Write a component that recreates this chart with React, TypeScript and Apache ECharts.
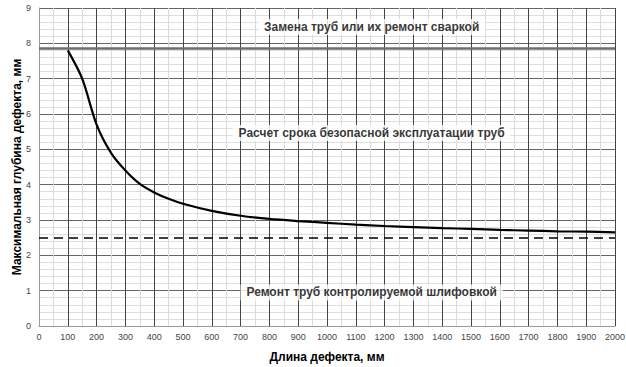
import React, { useEffect, useRef } from "react";
import * as echarts from "echarts";

const lengths = [100, 150, 200, 250, 300, 350, 400, 450, 500, 600, 700, 800, 900, 1000, 1100, 1200, 1300, 1400, 1500, 1600, 1700, 1800, 1900, 2000];
const depths = [7.8, 7.0, 5.7, 4.9, 4.4, 4.02, 3.78, 3.6, 3.46, 3.26, 3.12, 3.03, 2.97, 2.92, 2.87, 2.83, 2.8, 2.77, 2.75, 2.72, 2.7, 2.68, 2.67, 2.65];
const upperLimit = 7.85;
const lowerLimit = 2.5;
const zoneLabels = [
  "Замена труб или их ремонт сваркой",
  "Расчет срока безопасной эксплуатации труб",
  "Ремонт труб контролируемой шлифовкой",
];
const zoneX = [1155, 1155, 1155];
const zoneY = [8.46, 5.46, 0.95];
const xTitle = "Длина дефекта, мм";
const yTitle = "Максимальная глубина дефекта, мм";

export default function App() {
  const ref = useRef<HTMLDivElement>(null);
  useEffect(() => {
    document.body.style.margin = "0";
    const chart = echarts.init(ref.current!, null, { renderer: "svg" });
    const font = "Liberation Sans, Arial, sans-serif";
    chart.setOption({
      animation: false,
      textStyle: { fontFamily: font },
      grid: { left: 39, right: 11, top: 8, bottom: 41, containLabel: false, outerBoundsMode: "none" },
      xAxis: {
        type: "value",
        min: 0,
        max: 2000,
        interval: 100,
        name: xTitle,
        nameLocation: "middle",
        nameGap: 25,
        nameMoveOverlap: false,
        nameTextStyle: { fontWeight: "bold", fontSize: 12, color: "#000", fontFamily: font },
        axisLine: { show: true, lineStyle: { color: "#999" } },
        axisTick: { show: false },
        axisLabel: { color: "#444", fontSize: 9, margin: 6, formatter: (v: number) => String(v) },
        splitLine: { show: true, lineStyle: { color: "#444", width: 1 } },
        minorTick: { show: false, splitNumber: 2 },
        minorSplitLine: { show: true, lineStyle: { color: "#dadada", width: 1 } },
      },
      yAxis: {
        type: "value",
        min: 0,
        max: 9,
        interval: 1,
        name: yTitle,
        nameLocation: "middle",
        nameGap: 16,
        nameMoveOverlap: false,
        nameTextStyle: { fontWeight: "bold", fontSize: 12, color: "#000", fontFamily: font },
        axisLine: { show: true, lineStyle: { color: "#999" } },
        axisTick: { show: false },
        axisLabel: { color: "#444", fontSize: 9, margin: 8 },
        splitLine: { show: true, lineStyle: { color: "#666", width: 1 } },
        minorTick: { show: false, splitNumber: 5 },
        minorSplitLine: { show: true, lineStyle: { color: "#dedede", width: 1 } },
      },
      series: [
        {
          type: "line",
          data: lengths.map((x, i) => [x, depths[i]]),
          smooth: 0.3,
          showSymbol: false,
          lineStyle: { color: "#000", width: 2.2 },
          z: 5,
          markLine: {
            silent: true,
            symbol: "none",
            label: { show: false },
            data: [
              { yAxis: upperLimit, lineStyle: { color: "#6e6e6e", width: 2.5, type: "solid" } },
              { yAxis: lowerLimit, lineStyle: { color: "#000", width: 1.6, type: [9, 6] } },
            ],
          },
        },
        {
          type: "scatter",
          data: zoneLabels.map((t, i) => [zoneX[i], zoneY[i], t]),
          symbolSize: 0,
          silent: true,
          z: 10,
          label: {
            show: true,
            position: "inside",
            formatter: (p: any) => p.data[2],
            color: "#000",
            fontWeight: "bold",
            fontSize: 12,
            fontFamily: font,
            backgroundColor: "#fff",
            padding: [2, 6],
          },
        },
      ],
    });
    return () => chart.dispose();
  }, []);
  return <div ref={ref} style={{ width: 626, height: 367 }} />;
}
